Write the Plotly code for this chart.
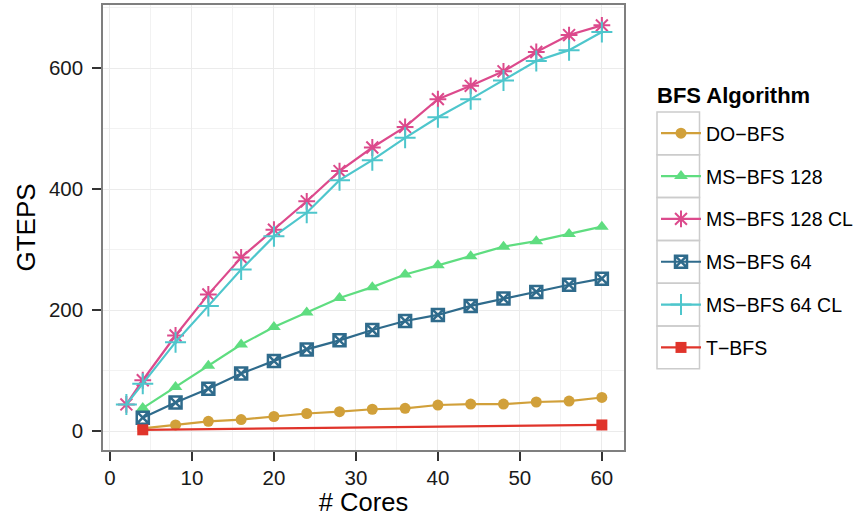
import plotly.graph_objects as go

cores_full = [2, 4, 8, 12, 16, 20, 24, 28, 32, 36, 40, 44, 48, 52, 56, 60]
cores = [4, 8, 12, 16, 20, 24, 28, 32, 36, 40, 44, 48, 52, 56, 60]
cores_tbfs = [4, 60]

do_bfs = [4.5, 10, 16, 19, 24, 29, 32, 36, 37.5, 43, 44.5, 44.5, 48, 49.5, 55.5]
ms128 = [38, 73, 108, 143, 172, 196, 220, 238, 259, 274, 289, 305, 314, 326, 338]
ms128cl = [44, 84, 158, 226, 287, 333, 380, 430, 469, 503, 549, 571, 595, 627, 655, 671]
ms64 = [22, 47, 70, 95, 116, 135, 150, 167, 182, 192, 207, 219, 230, 242, 252]
ms64cl = [44, 78, 147, 207, 267, 322, 361, 415, 448, 485, 519, 549, 580, 612, 630, 660]
tbfs = [2, 10]

x_ticks = [0, 10, 20, 30, 40, 50, 60]
y_ticks = [0, 200, 400, 600]

FONT = "Liberation Sans, Arial, sans-serif"

series = [
    ("DO\u2212BFS", cores, do_bfs, "#D1A03A", "circle", 11, None),
    ("MS\u2212BFS 128", cores, ms128, "#5FDD80", "triangle-up", 12, None),
    ("MS\u2212BFS 128 CL", cores_full, ms128cl, "#DC4A8C", "asterisk-open", 14, 2),
    ("MS\u2212BFS 64", cores, ms64, "#2F6B8C", "square-x-open", 12, 2.5),
    ("MS\u2212BFS 64 CL", cores_full, ms64cl, "#4EC6CC", "cross-thin-open", 15, 2),
    ("T\u2212BFS", cores_tbfs, tbfs, "#E0342B", "square", 11, None),
]

fig = go.Figure()
for name, xs, ys, col, sym, size, lw in series:
    marker = dict(symbol=sym, size=size, color=col)
    if lw:
        marker["line"] = dict(color=col, width=lw)
    fig.add_trace(go.Scatter(
        x=xs, y=ys, name=name, mode="lines+markers",
        line=dict(color=col, width=2.2), marker=marker,
        legendgroup=name,
    ))

PL, PR, PT, PB = 103, 624, 5, 450
W, H = 863, 516

def px(x):
    return (x - PL) / (PR - PL)
def py(y):
    return (PB - y) / (PB - PT)

box_top = 112
box_h = 42.8
for i in range(len(series)):
    y0 = box_top + i * box_h
    fig.add_shape(type="rect", xref="paper", yref="paper",
                  x0=px(657), x1=px(699.5), y0=py(y0), y1=py(y0 + box_h),
                  line=dict(color="#CCCCCC", width=1.5), fillcolor="rgba(0,0,0,0)",
                  layer="below")

fig.add_annotation(text="<b>BFS Algorithm</b>", xref="paper", yref="paper",
                   x=px(655), y=py(95), xanchor="left", yanchor="middle",
                   showarrow=False, font=dict(size=22, family=FONT, color="black"))

grid = "#EBEBEB"
tickfont = dict(size=20.5, color="#1a1a1a")
fig.update_layout(
    width=W, height=H,
    margin=dict(l=PL, r=W - PR, t=PT, b=H - PB, autoexpand=False),
    paper_bgcolor="white", plot_bgcolor="white",
    font=dict(family=FONT, color="black"),
    showlegend=True,
    legend=dict(
        x=px(656), xanchor="left", y=py(114), yanchor="top",
        font=dict(size=19.5, family=FONT),
        tracegroupgap=14.5, itemwidth=40,
        bgcolor="rgba(0,0,0,0)",
    ),
    xaxis=dict(
        range=[-0.85, 62.7], tickvals=x_ticks, ticks="outside", ticklen=9,
        tickwidth=1.8, tickcolor="#333", tickfont=tickfont, ticklabelstandoff=0,
        showgrid=True, gridcolor=grid, gridwidth=1,
        minor=dict(dtick=5, tick0=5, showgrid=True, gridcolor="#F2F2F2", gridwidth=1),
        showline=True, linecolor="#7F7F7F", linewidth=1.5, mirror=True,
        zeroline=False, automargin=False,
        title=dict(text="# Cores", font=dict(size=25.5), standoff=2),
    ),
    yaxis=dict(
        range=[-31.4, 704.7], tickvals=y_ticks, ticks="outside", ticklen=9,
        tickwidth=1.8, tickcolor="#333", tickfont=tickfont, ticklabelstandoff=5,
        showgrid=True, gridcolor=grid, gridwidth=1,
        minor=dict(dtick=100, tick0=100, showgrid=True, gridcolor="#F2F2F2", gridwidth=1),
        showline=True, linecolor="#7F7F7F", linewidth=1.5, mirror=True,
        zeroline=False, automargin=False,
        title=dict(text="GTEPS", font=dict(size=26), standoff=6),
    ),
)

fig.write_html("out.html", config={"displayModeBar": False},
               post_script="document.body.style.margin='0';")
